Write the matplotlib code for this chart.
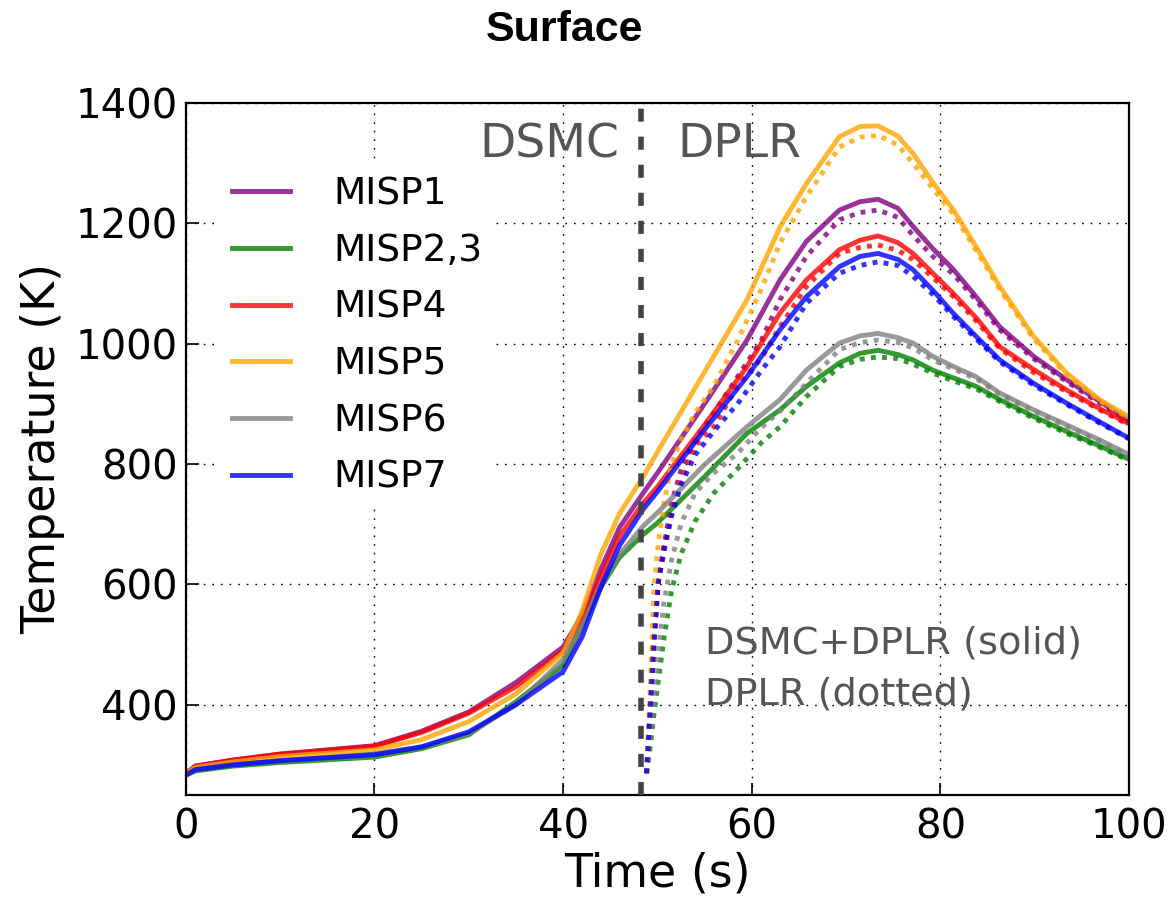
import matplotlib
matplotlib.use('Agg')
import matplotlib.pyplot as plt

# DSMC+DPLR (solid) surface temperature, K
time = [0, 1, 5, 10, 20, 25, 30, 35, 40, 42, 44, 46, 48.5, 50, 55, 59.5, 63, 65.8,
        69.3, 71.5, 73.4, 75.5, 77.1, 79.2, 81.4, 83.8, 86.3, 89.9, 93.4, 96.9, 100]
misp1 = [285, 298, 308, 318, 332, 356, 388, 437, 496, 548, 625, 695, 752, 785, 900, 1006,
         1106, 1170, 1222, 1236, 1240, 1225, 1195, 1158, 1123, 1078, 1028, 979, 940, 904, 872]
misp23 = [283, 290, 298, 304, 313, 327, 350, 405, 466, 530, 595, 645, 683, 702, 779, 851,
          890, 929, 968, 984, 989, 982, 973, 956, 943, 929, 907, 879, 854, 830, 808]
misp4 = [285, 298, 308, 318, 331, 354, 386, 430, 490, 540, 612, 680, 735, 762, 865, 962,
         1051, 1106, 1156, 1172, 1179, 1168, 1150, 1117, 1083, 1043, 995, 957, 923, 892, 867]
misp5 = [285, 296, 305, 314, 325, 342, 372, 418, 486, 555, 650, 718, 779, 820, 953, 1073,
         1194, 1266, 1344, 1361, 1362, 1345, 1316, 1268, 1222, 1161, 1095, 1012, 951, 907, 878]
misp6 = [283, 292, 300, 307, 318, 330, 352, 400, 475, 532, 598, 650, 697, 719, 799, 862,
         907, 956, 1001, 1013, 1017, 1010, 1001, 979, 962, 945, 918, 890, 865, 840, 816]
misp7 = [283, 292, 300, 307, 317, 330, 355, 400, 455, 512, 595, 665, 725, 754, 857, 945,
         1023, 1078, 1128, 1145, 1150, 1140, 1123, 1089, 1050, 1012, 973, 934, 901, 870, 843]

# DPLR only (dotted)
time_dplr = [48.85, 49.2, 49.6, 50.1, 50.7, 51.5, 52.5, 54, 56, 58.5, 61, 63, 65.8, 69.3,
             71.5, 73.4, 75.5, 77.1, 79.2, 81.4, 83.8, 86.3, 89.9, 93.4, 96.9, 100]
misp1_dplr = [286, 390, 510, 605, 665, 735, 790, 840, 885, 945, 1005, 1073, 1145, 1206,
              1218, 1222, 1210, 1180, 1145, 1115, 1072, 1023, 975, 937, 901, 870]
misp23_dplr = [286, 325, 380, 440, 510, 590, 650, 705, 752, 792, 835, 862, 912, 962,
               974, 978, 975, 966, 951, 938, 925, 904, 876, 851, 828, 806]
misp4_dplr = [286, 385, 500, 605, 660, 720, 772, 830, 862, 930, 975, 1028, 1095, 1150,
              1160, 1164, 1155, 1140, 1110, 1078, 1038, 992, 952, 920, 890, 865]
misp5_dplr = [286, 410, 585, 670, 735, 800, 840, 885, 930, 1005, 1090, 1167, 1244, 1327,
              1343, 1346, 1330, 1300, 1258, 1215, 1155, 1090, 1008, 948, 905, 876]
misp6_dplr = [286, 345, 415, 490, 570, 640, 700, 752, 785, 818, 860, 888, 934, 990,
              1002, 1006, 1002, 993, 973, 958, 942, 916, 888, 863, 838, 814]
misp7_dplr = [286, 381, 491, 603, 655, 713, 765, 815, 855, 900, 955, 995, 1067, 1117,
              1130, 1136, 1130, 1112, 1082, 1045, 1008, 970, 931, 899, 868, 842]

labels = ['MISP1', 'MISP2,3', 'MISP4', 'MISP5', 'MISP6', 'MISP7']
colors = ['purple', 'green', 'red', 'orange', 'gray', 'blue']
solid = [misp1, misp23, misp4, misp5, misp6, misp7]
dotted = [misp1_dplr, misp23_dplr, misp4_dplr, misp5_dplr, misp6_dplr, misp7_dplr]
t_switch = 48.3

fig = plt.figure(figsize=(11.76, 8.97), dpi=100)
ax = fig.add_axes([0.158, 0.1137, 0.802, 0.7715])

for lab, c, ys, yd in zip(labels, colors, solid, dotted):
    ax.plot(time, ys, color=c, alpha=0.8, lw=3.5, label=lab)
    ax.plot(time_dplr, yd, color=c, alpha=0.8, lw=3.5, dashes=(1, 1.3))

ax.axvline(t_switch, color='#444444', lw=4.0, dashes=(2.35, 2.7), zorder=5)

ax.text(46.0, 1310, 'DSMC', fontsize=34, color='#555555', ha='right', va='baseline')
ax.text(52.1, 1310, 'DPLR', fontsize=34, color='#555555', ha='left', va='baseline')
ax.text(55.0, 400, 'DSMC+DPLR (solid)\nDPLR (dotted)', fontsize=27.5, color='#555555',
        ha='left', va='baseline', linespacing=1.55)

ax.set_xlim(0, 100)
ax.set_ylim(250, 1400)
ax.set_xticks([0, 20, 40, 60, 80, 100])
ax.set_yticks([400, 600, 800, 1000, 1200, 1400])
ax.grid(True, color='k', lw=1.0, linestyle=(0, (1.2, 5)))
ax.tick_params(direction='in', length=9, width=1.2, labelsize=29)
ax.tick_params(axis='x', pad=9)
ax.tick_params(axis='y', pad=6)
for s in ax.spines.values():
    s.set_linewidth(1.6)

ax.set_xlabel('Time (s)', fontsize=33, labelpad=3)
ax.set_ylabel('Temperature (K)', fontsize=33, labelpad=7)

leg = ax.legend(loc='upper left', bbox_to_anchor=(0.037, 0.91), fontsize=27,
                handlelength=1.55, handletextpad=1.15, labelspacing=0.55,
                borderpad=0.3, borderaxespad=0, fancybox=False)
leg.get_frame().set_edgecolor('none')
leg.get_frame().set_facecolor('white')
leg.get_frame().set_alpha(1)

fig.text(0.48, 0.967, 'Surface', fontsize=31, fontweight='bold',
         family='Liberation Sans', ha='center', va='center')

fig.savefig('out.png', dpi=100)
